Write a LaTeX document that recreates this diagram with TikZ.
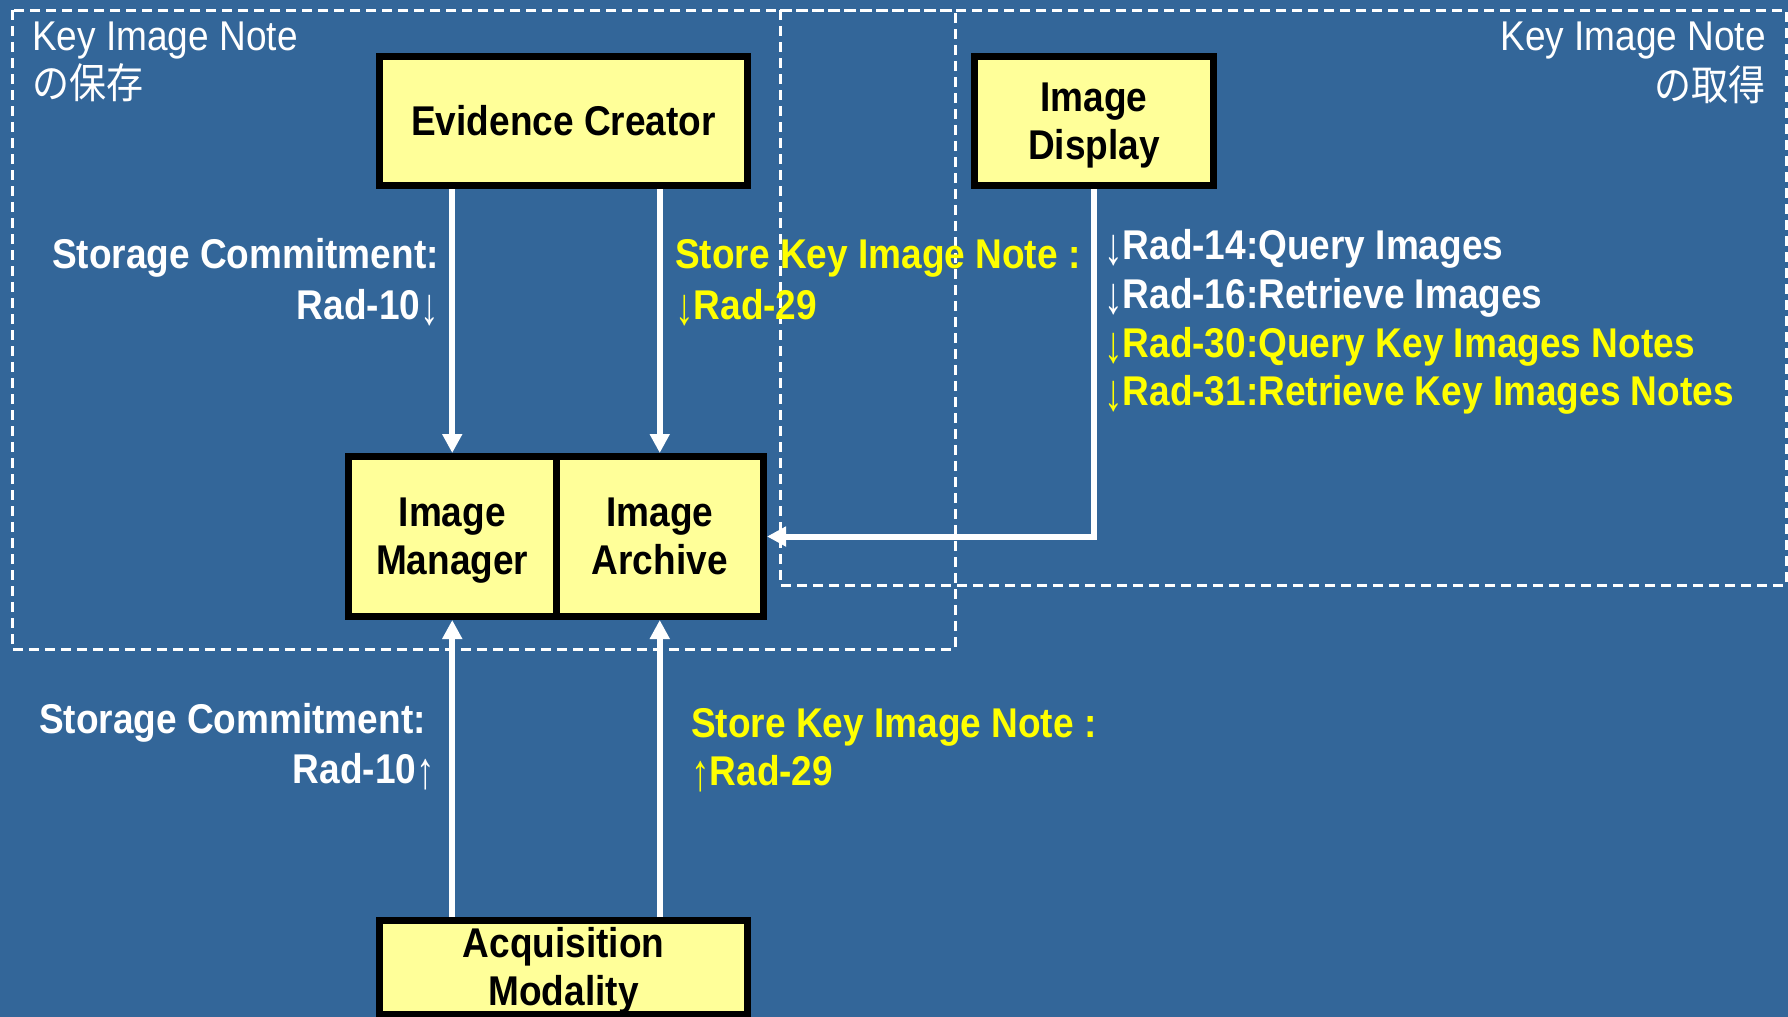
\documentclass[tikz,border=0pt]{standalone}
\usepackage{graphicx}
\usepackage{fontspec}
\setmainfont{Liberation Sans}[FakeStretch=0.89]
\newfontfamily\jpfont{Noto Sans CJK JP}[FakeStretch=0.89]
\usetikzlibrary{arrows.meta}
\definecolor{bg}{HTML}{336699}
\definecolor{boxfill}{HTML}{FFFF99}
\definecolor{ylw}{HTML}{FFFF00}
\newcommand\myDown{{\mdseries\raisebox{-0.14em}{\scalebox{1}[1.25]{↓}}}}
\newcommand\myUp{{\mdseries\raisebox{-0.14em}{\scalebox{1}[1.25]{↑}}}}
\newcommand\topstrut{\rule{0pt}{37pt}}
\begin{document}
\begin{tikzpicture}[x=1pt,y=-1pt,
  actor/.style={draw=black, line width=7pt, fill=boxfill, inner sep=0pt, align=center,
    font=\fontsize{41.6}{48}\selectfont\bfseries, text=black},
  flow/.style={draw=white, line width=6pt, -{Triangle[length=19pt,width=19pt]}},
  group/.style={draw=white, line width=3pt, dash pattern=on 10pt off 6pt},
  lbl/.style={inner sep=0pt, font=\fontsize{41.6}{49}\selectfont\bfseries},
  wl/.style={lbl, text=white},
  yl/.style={lbl, text=ylw},
  ttl/.style={inner sep=0pt, font=\fontsize{41.6}{49}\selectfont, text=white},
]
\path[fill=bg] (0,0) rectangle (1788,1017);
\useasboundingbox (0,0) rectangle (1788,1017);

% group frames
\draw[group] (12,10) rectangle (955,649);
\draw[group] (780,10) rectangle (1786,585);

% actors
\node[actor, minimum width=368pt, minimum height=129pt] (ec) at (563.5,121) {Evidence Creator};
\node[actor, minimum width=239pt, minimum height=129pt] (disp) at (1094,121) {\topstrut Image\\Display};
\node[actor, minimum width=207.5pt, minimum height=160pt] (mgr) at (452.25,536.5) {\topstrut Image\\Manager};
\node[actor, minimum width=207.5pt, minimum height=160pt] (arc) at (659.75,536.5) {\topstrut Image\\Archive\vphantom{g}};
\node[actor, minimum width=368pt, minimum height=92pt] (acq) at (563.5,967.5) {\topstrut Acquisition\\Modality};

% connectors
\draw[flow] (ec.south -| mgr.north) -- (mgr.north);
\draw[flow] (ec.south -| arc.north) -- (arc.north);
\draw[flow] (disp.south) |- (arc.east);
\draw[flow] (acq.north -| mgr.south) -- (mgr.south);
\draw[flow] (acq.north -| arc.south) -- (arc.south);

% labels
\node[wl, anchor=base east] (l1a) at (439,268) {Storage Commitment:};
\node[wl, anchor=base east] (l1b) at (439,319) {Rad-10\myDown};
\node[yl, anchor=base west] (l2a) at (675,268) {Store Key Image Note :};
\node[yl, anchor=base west] (l2b) at (675,319) {\myDown Rad-29};
\node[wl, anchor=base west] (l3a) at (1104,259) {\myDown Rad-14:Query Images};
\node[wl, anchor=base west] (l3b) at (1104,308) {\myDown Rad-16:Retrieve Images};
\node[yl, anchor=base west] (l3c) at (1104,357) {\myDown Rad-30:Query Key Images Notes};
\node[yl, anchor=base west] (l3d) at (1104,405) {\myDown Rad-31:Retrieve Key Images Notes};
\node[wl, anchor=base east] (l4a) at (426,733) {Storage Commitment:};
\node[wl, anchor=base east] (l4b) at (435,783) {Rad-10\myUp};
\node[yl, anchor=base west] (l5a) at (691,737) {Store Key Image Note :};
\node[yl, anchor=base west] (l5b) at (691,785) {\myUp Rad-29};

% group titles
\node[ttl, anchor=base west] (t1a) at (32,50) {Key Image Note};
\node[ttl, anchor=base west] (t1b) at (32,98) {\jpfont の保存};
\node[ttl, anchor=base east] (t2a) at (1766,50) {Key Image Note};
\node[ttl, anchor=base east] (t2b) at (1766,100) {\jpfont の取得};
\end{tikzpicture}
\end{document}
